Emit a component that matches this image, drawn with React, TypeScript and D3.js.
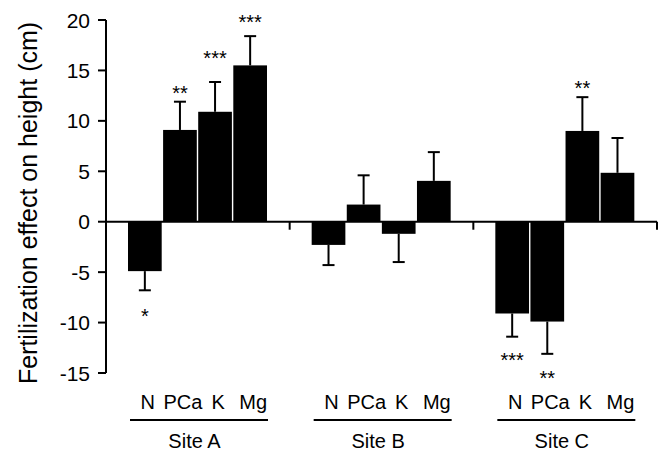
import React from "react";
import * as d3 from "d3";

const sites = ["Site A", "Site B", "Site C"];
const treatments = ["N", "PCa", "K", "Mg"];
const effectA = [-4.9, 9.1, 10.9, 15.5];
const effectB = [-2.3, 1.7, -1.2, 4.05];
const effectC = [-9.1, -9.9, 9.0, 4.85];
const errorA = [1.9, 2.8, 2.95, 2.9];
const errorB = [2.0, 2.9, 2.8, 2.85];
const errorC = [2.3, 3.2, 3.35, 3.45];
const sigA = ["*", "**", "***", "***"];
const sigB = ["", "", "", ""];
const sigC = ["***", "**", "**", ""];
const sigPosA = [-9.0, 13.2, 16.6, 20.2];
const sigPosB = [0, 0, 0, 0];
const sigPosC = [-13.3, -15.1, 13.7, 0];
const yTicks = [-15, -10, -5, 0, 5, 10, 15, 20];
const yTitle = "Fertilization effect on height (cm)";

const effects = [effectA, effectB, effectC];
const errors = [errorA, errorB, errorC];
const sigs = [sigA, sigB, sigC];
const sigPos = [sigPosA, sigPosB, sigPosC];

const W = 669;
const H = 453;
const FONT = "'Liberation Sans', Arial, Helvetica, sans-serif";

export default function App() {
  const x0 = d3.scaleBand<string>().domain(sites).range([106, 657]).padding(0);
  const x1 = d3
    .scaleBand<string>()
    .domain(treatments)
    .range([22, 161])
    .paddingInner(0.04)
    .paddingOuter(0);
  const y = d3.scaleLinear().domain([-15, 20]).range([373, 20]);
  const bw = x1.bandwidth();

  return (
    <svg
      width={W}
      height={H}
      style={{ position: "absolute", left: 0, top: 0, background: "#fff" }}
      fontFamily={FONT}
    >
      <rect x={0} y={0} width={W} height={H} fill="#fff" />
      {/* bars */}
      {sites.map((s, si) =>
        treatments.map((t, ti) => {
          const v = effects[si][ti];
          const bx = (x0(s) as number) + (x1(t) as number);
          const y0 = y(0);
          const yv = y(v);
          return (
            <rect
              key={s + t}
              x={bx}
              y={Math.min(y0, yv)}
              width={bw}
              height={Math.abs(yv - y0)}
              fill="#000"
            />
          );
        })
      )}
      {/* error bars */}
      {sites.map((s, si) =>
        treatments.map((t, ti) => {
          const v = effects[si][ti];
          const e = errors[si][ti];
          const cx = (x0(s) as number) + (x1(t) as number) + bw / 2;
          const end = v >= 0 ? v + e : v - e;
          return (
            <g key={"e" + s + t} stroke="#000" strokeWidth={2}>
              <line x1={cx} x2={cx} y1={y(v)} y2={y(end)} />
              <line x1={cx - 6} x2={cx + 6} y1={y(end)} y2={y(end)} />
            </g>
          );
        })
      )}
      {/* significance */}
      {sites.map((s, si) =>
        treatments.map((t, ti) => {
          const lab = sigs[si][ti];
          if (!lab) return null;
          const cx = (x0(s) as number) + (x1(t) as number) + bw / 2;
          return (
            <text
              key={"s" + s + t}
              x={cx}
              y={y(sigPos[si][ti]) + 11}
              textAnchor="middle"
              fontSize={20}
              fill="#000"
            >
              {lab}
            </text>
          );
        })
      )}
      {/* y axis */}
      <g stroke="#000" strokeWidth={2}>
        <line x1={106} x2={106} y1={y(20)} y2={y(-15)} />
        {yTicks.map((t) => (
          <line key={t} x1={98} x2={106} y1={y(t)} y2={y(t)} />
        ))}
      </g>
      {yTicks.map((t) => (
        <text
          key={"l" + t}
          x={90}
          y={y(t)}
          dy="0.36em"
          textAnchor="end"
          fontSize={21}
          fill="#000"
        >
          {t}
        </text>
      ))}
      {/* x axis */}
      <g stroke="#000" strokeWidth={2}>
        <line x1={106} x2={657} y1={y(0)} y2={y(0)} />
        {sites.map((s) => {
          const xr = (x0(s) as number) + x0.bandwidth();
          return <line key={"t" + s} x1={xr} x2={xr} y1={y(0)} y2={y(0) + 8} />;
        })}
      </g>
      {/* category labels */}
      {sites.map((s) => {
        const gx = x0(s) as number;
        const left = gx + (x1(treatments[0]) as number);
        const right = gx + (x1(treatments[treatments.length - 1]) as number) + bw;
        return (
          <g key={"c" + s}>
            {treatments.map((t) => (
              <text
                key={t}
                x={gx + (x1(t) as number) + bw / 2 + 3}
                y={409}
                textAnchor="middle"
                fontSize={20}
                fill="#000"
              >
                {t}
              </text>
            ))}
            <line x1={left + 2} x2={right + 1} y1={420} y2={420} stroke="#000" strokeWidth={2} />
            <text
              x={(left + right) / 2 - 3}
              y={448}
              textAnchor="middle"
              fontSize={20}
              fill="#000"
            >
              {s}
            </text>
          </g>
        );
      })}
      {/* y title */}
      <text
        transform="translate(36.5,203) rotate(-90)"
        textAnchor="middle"
        fontSize={25}
        fill="#000"
      >
        {yTitle}
      </text>
    </svg>
  );
}
